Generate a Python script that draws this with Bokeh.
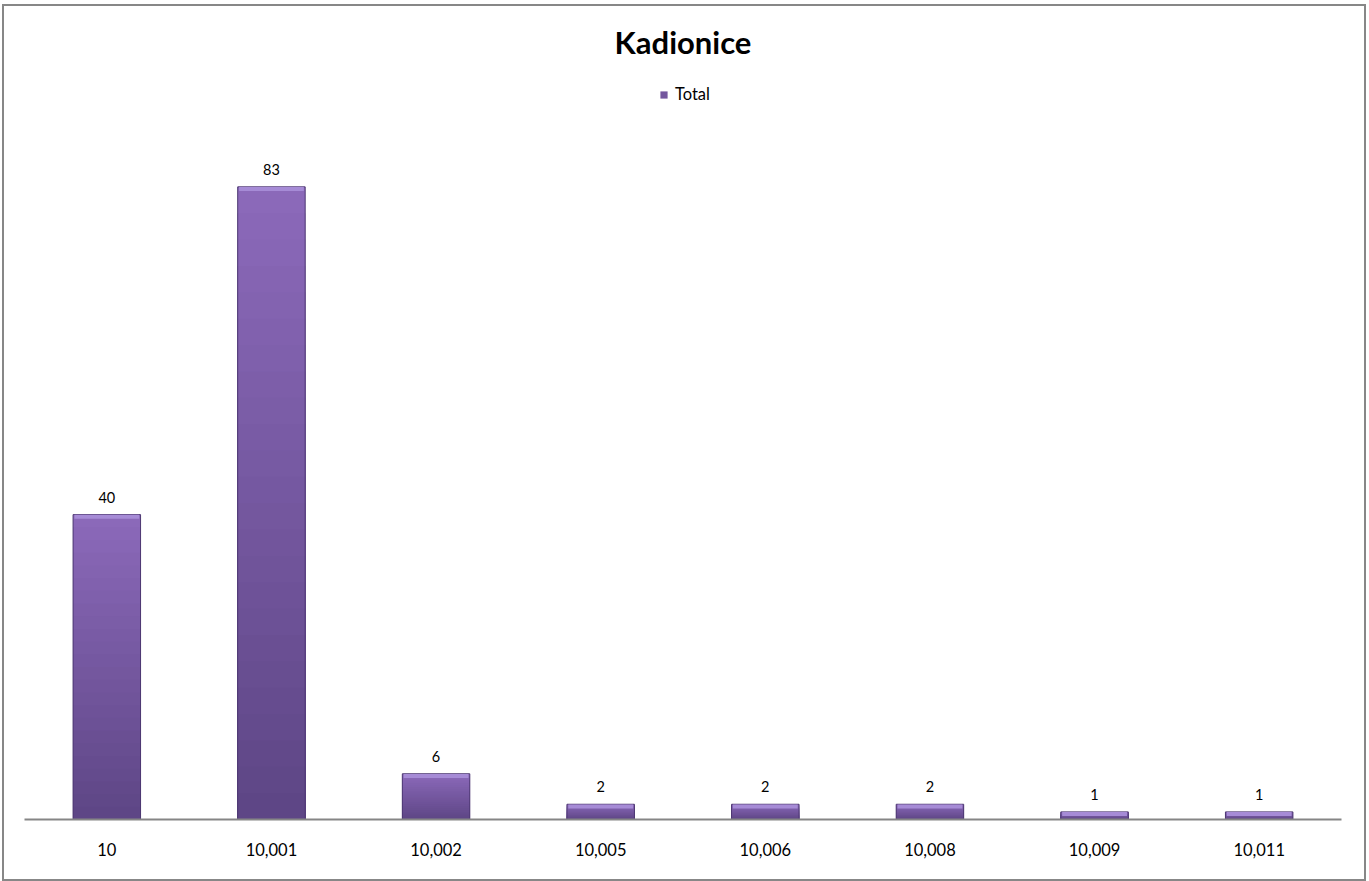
from bokeh.plotting import figure
from bokeh.models import FactorRange, Range1d, LabelSet, Label, Legend, LegendItem, ColumnDataSource
from bokeh.transform import dodge
from bokeh.core.properties import value
from bokeh.embed import file_html
from bokeh.resources import INLINE

# ---- data ----
categories = ["10", "10,001", "10,002", "10,005", "10,006", "10,008", "10,009", "10,011"]
totals = [40, 83, 6, 2, 2, 2, 1, 1]
series_name = "Total"
chart_title = "Kadionice"

FONT = "Lato"
BAR_W = 0.41
TOP_RGB = (0x8B, 0x69, 0xB9)
BOT_RGB = (0x5E, 0x46, 0x86)

# plot area: value 90 sits 686px above the axis; frame extends to canvas top
Y_END = 90 * 813 / 686

p = figure(
    width=1364, height=877,
    x_range=FactorRange(factors=categories),
    y_range=Range1d(0, Y_END),
    output_backend="svg", toolbar_location=None,
    min_border_left=20, min_border_right=27,
    min_border_top=0, min_border_bottom=64,
    styles={"border": "2px solid #878787", "box-sizing": "border-box",
            "margin-left": "2px", "margin-top": "4px"},
)
p.outline_line_color = None
p.xgrid.grid_line_color = None
p.ygrid.grid_line_color = None
p.yaxis.visible = False
p.background_fill_color = "white"
p.border_fill_color = "white"

# gradient bars built in bands (light top -> dark bottom)
N = 24
renderers = []
for k in range(N):
    t = k / (N - 1)
    rgb = tuple(int(round(TOP_RGB[i] + (BOT_RGB[i] - TOP_RGB[i]) * t)) for i in range(3))
    col = "#%02x%02x%02x" % rgb
    frac = 1 - k / N
    src = ColumnDataSource(dict(x=categories, top=[v * frac for v in totals]))
    r = p.vbar(x="x", top="top", width=BAR_W, source=src, fill_color=col, line_color=None)
    renderers.append(r)

src_main = ColumnDataSource(dict(x=categories, top=totals,
                                 labels=[str(v) for v in totals]))
# outline
p.vbar(x="x", top="top", width=BAR_W, source=src_main, fill_color=None,
       line_color="#4d3872", line_width=1)
# top bevel highlight
p.rect(x="x", y=dodge("top", -0.28, range=p.y_range), width=BAR_W * 0.96, height=4,
       height_units="screen", source=src_main, fill_color="#a68bd6", line_color=None)

# value labels
labels = LabelSet(x="x", y="top", text="labels", source=src_main, y_offset=12,
                  text_align="center", text_baseline="bottom",
                  text_font=value(FONT), text_font_size=value("14.5px"), text_color="black")
p.add_layout(labels)

# axis styling
ax = p.xaxis[0]
ax.axis_line_color = "#868686"
ax.axis_line_width = 2
ax.major_tick_line_color = None
ax.minor_tick_line_color = None
ax.major_label_text_font = FONT
ax.major_label_text_font_size = "16.5px"
ax.major_label_text_color = "black"
ax.major_label_standoff = 17

# title
title = Label(x=658.5, y=778, x_units="screen", y_units="screen", text=chart_title,
              text_align="center", text_baseline="middle", text_font=FONT,
              text_font_size="31px", text_font_style="bold", text_color="black")
p.add_layout(title)

# legend
mid = renderers[N // 2]
legend = Legend(items=[LegendItem(label=series_name, renderers=[mid])],
                location=(635, 715), orientation="horizontal",
                glyph_width=9, glyph_height=9, label_height=16,
                label_standoff=7, padding=0, margin=0, spacing=0,
                border_line_color=None, background_fill_alpha=0,
                label_text_font=FONT, label_text_font_size="16.5px",
                label_text_color="black")
p.add_layout(legend)

open("out.html", "w").write(file_html(p, INLINE))
